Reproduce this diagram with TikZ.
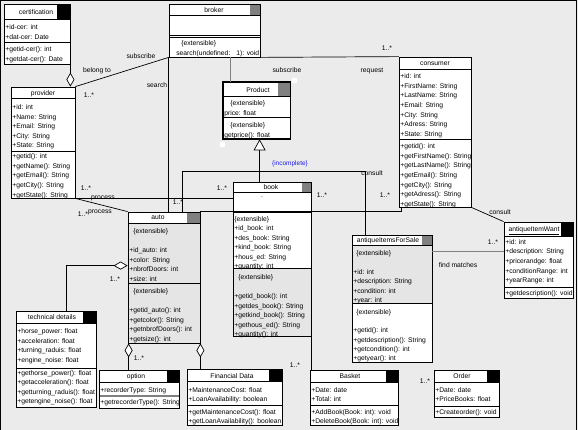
\documentclass[tikz,border=0pt]{standalone}
\usepackage{fontspec}
\setmainfont{Liberation Sans}
\usetikzlibrary{arrows.meta,fit}
\definecolor{bg}{RGB}{235,235,235}
\definecolor{secg}{RGB}{229,229,229}
\definecolor{sqg}{RGB}{128,128,128}
\definecolor{incl}{RGB}{30,30,230}
\def\boxextra{}
% name, x1, y1, x2, y2, header bottom, separator, square colour, square width
\newcommand\ubox[9]{%
  \fill[white] (#2,#3) rectangle (#4,#5);
  \boxextra
  \ifdim #9pt>0pt \fill[fill=#8] ({#4-#9},#3) rectangle (#4,#6); \fi
  \draw (#2,#6) -- (#4,#6);
  \draw (#2,#7) -- (#4,#7);
  \node[fit={(#2,#3) (#4,#5)}, inner sep=0pt, draw, line width=0.8pt] (#1) {};
  \gdef\boxextra{}}
% name prefix, x, first baseline, spacing, list
\newcommand\txtlines[5]{%
  \foreach \t [count=\i] in {#5}{%
    \node[txt,anchor=base west] (#1\i) at (#2,{#3+(\i-1)*#4}) {\t};
  }}
\begin{document}
\begin{tikzpicture}[x=1pt,y=-1pt,line width=0.7pt,
  txt/.style={font=\fontsize{6.75}{8}\selectfont, inner sep=0pt},
  hdr/.style={txt, anchor=base},
  lbl/.style={txt, anchor=base},
  gen/.style={-{Triangle[length=11pt,width=12pt,fill=white]}},
  grayline/.style={draw=sqg, line width=1.3pt}]
\useasboundingbox (0,0) rectangle (578,430);
\fill[bg] (0,0) rectangle (578,430);
\draw[line width=1pt] (0.5,430) -- (0.5,0.5) -- (576.5,0.5) -- (576.5,430);

% ---------- classes ----------
\ubox{cert}{4}{4}{70}{64}{19}{42}{black}{13}
\node[hdr] (cert-h) at (36,14.5) {certification};
\txtlines{cert-a}{5}{29.5}{10}{+id-cer: int,+dat-cer: Date}
\txtlines{cert-m}{5}{51.5}{10}{+getid-cer(): int,+getdat-cer(): Date}

\ubox{prov}{11}{87}{75}{198}{98}{151}{black}{0}
\node[hdr] (prov-h) at (43,95.5) {provider};
\txtlines{prov-a}{12}{109.5}{9.6}{+id: int,+Name: String,+Email: String,+City: String,+State: String}
\txtlines{prov-m}{12}{158.5}{9.7}{+getid(): int,+getName(): String,+getEmail(): String,+getCity(): String,+getState(): String}

\def\boxextra{\draw (169,37.5) -- (260,37.5);}
\ubox{broker}{169}{4}{260}{57}{15}{35}{sqg}{10}
\node[hdr] (broker-h) at (214,12.5) {broker};
\node[txt,anchor=base west] (broker-m1) at (181,45.5) {\{extensible\}};
\node[txt,anchor=base west] (broker-m2) at (176,55.5) {search(undefined:\hspace{6pt}1): void};

\ubox{prod}{223}{82}{290}{139}{96}{117}{sqg}{12}
\draw[line width=1.8pt] (prod.north west) rectangle (prod.south east);
\node[hdr] (prod-h) at (258,92.5) {Product};
\node[txt,anchor=base west] (prod-a1) at (230,105.5) {\{extensible\}};
\node[txt,anchor=base west] (prod-a2) at (224,115.5) {price: float};
\node[txt,anchor=base west] (prod-m1) at (230,127.5) {\{extensible\}};
\node[txt,anchor=base west] (prod-m2) at (224,137.5) {getprice(): float};
\fill[white] (292,78) rectangle (297,83);
\fill[white] (220,142) rectangle (225,147);

\ubox{cons}{399}{57}{471}{207}{69}{139}{black}{0}
\node[hdr] (cons-h) at (435,65.5) {consumer};
\txtlines{cons-a}{400}{78.5}{9.67}{+id: int,+FirstName: String,+LastName: String,+Email: String,+City: String,+Adress: String,+State: String}
\txtlines{cons-m}{400}{148.5}{9.67}{+getid(): int,+getFirstName(): String,+getLastName(): String,+getEmail(): String,+getCity(): String,+getAdress(): String,+getState(): String}

\def\boxextra{\fill[secg] (233,268) rectangle (311,336); \draw (233,212) -- (311,212);}
\ubox{book}{233}{182}{311}{336}{192}{268}{sqg}{9}
\node[hdr] (book-h) at (271,189.5) {book};
\node[txt,anchor=base] (book-d) at (262,198) {.};
\txtlines{book-a}{234}{221.5}{9.4}{\{extensible\},+id\_book: int,+des\_book: String,+kind\_book: String,+hous\_ed: String,+quantity: int}
\txtlines{book-m}{234}{279.5}{9.5}{\hspace{4pt}\{extensible\},\mbox{},+getid\_book(): int,+getdes\_book(): String,+getkind\_book(): String,+gethous\_ed(): String,+quantity(): int}

\def\boxextra{\fill[secg] (128,223) rectangle (200,343);}
\ubox{auto}{128}{212}{200}{343}{223}{283}{sqg}{13}
\node[hdr] (auto-h) at (158,220) {auto};
\txtlines{auto-a}{129}{233.5}{9.6}{\hspace{4pt}\{extensible\},\mbox{},+id\_auto: int,+color: String,+nbrofDoors: int,+size: int}
\txtlines{auto-m}{129}{293.5}{9.6}{\hspace{4pt}\{extensible\},\mbox{},+getid\_auto(): int,+getcolor(): String,+getnbrofDoors(): int,+getsize(): int}

\ubox{tech}{16}{311}{96}{407}{323}{368}{black}{13}
\node[hdr] (tech-h) at (52,319.5) {technical details};
\txtlines{tech-a}{17}{333.5}{9.6}{+horse\_power: float,+acceleration: float,+turning\_raduis: float,+engine\_noise: float}
\txtlines{tech-m}{17}{375.5}{9.4}{+gethorse\_power(): float,+getacceleration(): float,+getturning\_raduis(): float,+getengine\_noise(): float}

\def\boxextra{\draw[sqg, line width=1.5pt] (99,396) -- (179,396);}
\ubox{opt}{99}{370}{179}{408}{382}{382}{black}{12}
\node[hdr] (opt-h) at (136,378.5) {option};
\node[txt,anchor=base west] (opt-a1) at (100,392.5) {+recorderType: String};
\node[txt,anchor=base west] (opt-m1) at (100,404.5) {+getrecorderType(): String};

\ubox{fin}{187}{369}{282}{425}{381}{405}{black}{13}
\node[hdr] (fin-h) at (232,378) {Financial Data};
\txtlines{fin-a}{188}{392.5}{9.3}{+MaintenanceCost: float,+LoanAvailability: boolean}
\txtlines{fin-m}{188}{414.5}{9.3}{+getMaintenanceCost(): float,+getLoanAvailability(): boolean}

\ubox{basket}{310}{370}{398}{425}{382}{405}{black}{12}
\node[hdr] (basket-h) at (350,378.5) {Basket};
\txtlines{basket-a}{311}{392.5}{9.3}{+Date: date,+Total: int}
\txtlines{basket-m}{311}{414.5}{9.3}{+AddBook(Book: int): void,+DeleteBook(Book: int): void}

\ubox{order}{434}{370}{499}{417}{382}{406}{black}{12}
\node[hdr] (order-h) at (462,378.5) {Order};
\txtlines{order-a}{435}{392.5}{9.3}{+Date: date,+PriceBooks: float}
\node[txt,anchor=base west] (order-m1) at (435,414.5) {+Createorder(): void};

\def\boxextra{\fill[secg] (352,245) rectangle (432,303);}
\ubox{sale}{352}{235}{432}{362}{245}{303}{sqg}{10}
\node[hdr] (sale-h) at (388,242.5) {\underline{antiqueItemsForSale}};
\txtlines{sale-a}{353}{255.5}{9.4}{\hspace{3pt}\{extensible\},\mbox{},+id: int,+description: String,+condition: int,+year: int}
\txtlines{sale-m}{353}{314.5}{9.2}{\hspace{3pt}\{extensible\},\mbox{},+getid(): int,+getdescription(): String,+getcondition(): int,+getyear(): int}

\ubox{want}{504}{222}{573}{298}{236}{287}{black}{12}
\node[hdr] (want-h) at (534,231.5) {\underline{antiqueItemWant}};
\txtlines{want-a}{505}{244.5}{9.5}{+id: int,+description: String,+pricerandge: float,+conditionRange: int,+yearRange: int}
\node[txt,anchor=base west] (want-m1) at (505,295.5) {+getdescription(): void};

% ---------- connectors ----------
\draw[-{Diamond[length=14pt,width=8pt,fill=white]}] (cert.south east) -- (prov.north -| cert.south east);
\draw (prov.north east) -- (broker.south west);
\draw (broker.south east) -- (cons.north west);
\draw[grayline] ([xshift=62pt]broker.south west) -- ([xshift=8pt]prod.north west);
\draw (broker.south west) -- ([xshift=41pt]auto.north west);
\draw (prov.south east) -- (prov.south east -| book.west);
\draw (prov.south east) -- (auto.north west);
\draw ([xshift=55pt]auto.north west) |- ([xshift=14pt,yshift=63pt]sale.north west) -- ([xshift=14pt]sale.north west);
\draw (auto.north east) -| ([xshift=3pt]cons.south west);
\draw (cons.south east) -- (want.north west);
\draw[grayline] ([yshift=-17pt]sale.north east) -- ([yshift=-30pt]want.north west);
\draw[gen] ([xshift=27pt]book.north west) -- ([xshift=37pt]prod.south west);
\draw[-{Diamond[length=14pt,width=8pt,fill=white]}] ([xshift=51pt]tech.north west) |- ([yshift=-54pt]auto.north west);
\draw[{Diamond[length=14pt,width=8pt,fill=white]}-] ([xshift=1pt]auto.south west) -- ([xshift=30pt]opt.north west);
\draw[{Diamond[length=14pt,width=8pt,fill=white]}-] (auto.south east) -- (fin.north -| auto.south east);
\draw (book.south east) -- (basket.north -| book.south east);

% ---------- labels ----------
\node[lbl] (lb1) at (97,72.5) {belong to};
\node[lbl] (lb2) at (141,58.5) {subscribe};
\node[lbl] (lb3) at (89,97.5) {1..*};
\node[lbl] (lb4) at (157,87.5) {search};
\node[lbl] (lb5) at (287,72.5) {subscribe};
\node[lbl] (lb6) at (372,72.5) {request};
\node[lbl] (lb7) at (387,50.5) {1..*};
\node[lbl] (lb8) at (86,190.5) {1..*};
\node[lbl] (lb9) at (103,199.5) {process};
\node[lbl] (lb10) at (100,213.5) {process};
\node[lbl] (lb11) at (83,216.5) {1..*};
\node[lbl] (lb12) at (178,204.5) {1..*};
\node[lbl] (lb13) at (222,190.5) {1..*};
\node[lbl] (lb14) at (322,197.5) {1..*};
\node[lbl] (lb15) at (385,197.5) {1..*};
\node[lbl] (lb16) at (372,175.5) {consult};
\node[font=\fontsize{6.5}{7}\selectfont, text=incl, anchor=base, inner sep=0pt] (lb17) at (290,165.5) {\{incomplete\}};
\node[lbl] (lb18) at (500,214.5) {consult};
\node[lbl] (lb19) at (493,244.5) {1..*};
\node[lbl] (lb20) at (458,267.5) {find matches};
\node[lbl] (lb21) at (115,281.5) {1..*};
\node[lbl] (lb22) at (139,360.5) {1..*};
\node[lbl] (lb23) at (295,367.5) {1..*};
\node[lbl] (lb24) at (425,383.5) {1..*};
\end{tikzpicture}
\end{document}
